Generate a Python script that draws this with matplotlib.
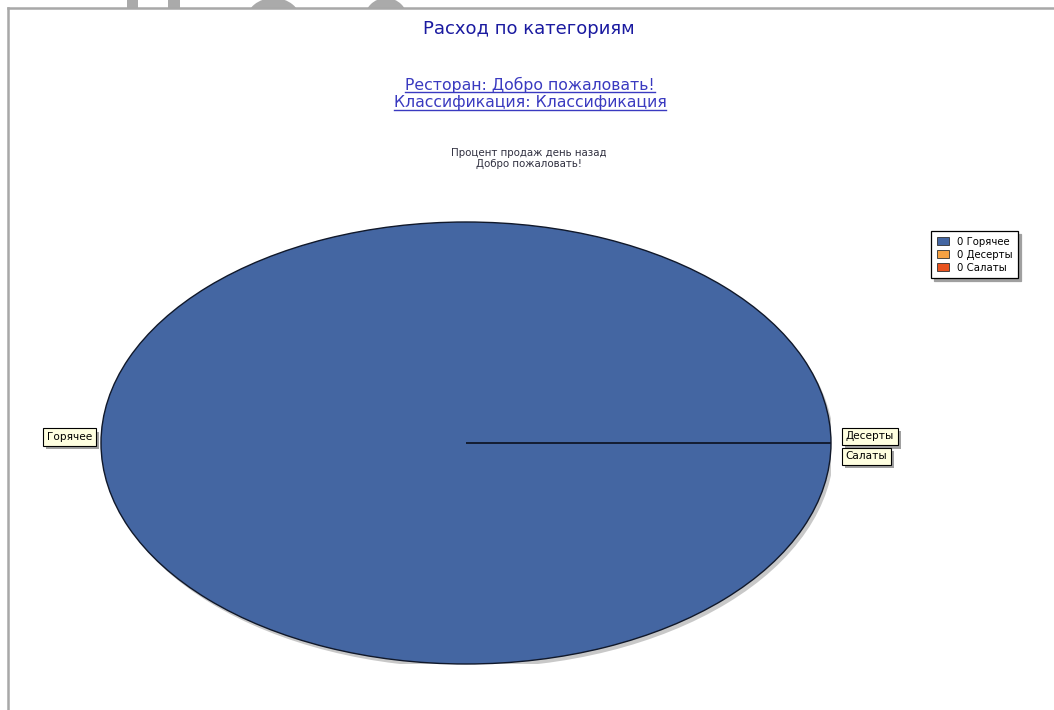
import matplotlib
matplotlib.use("Agg")
import matplotlib.pyplot as plt
from matplotlib import patches, transforms
import matplotlib.patheffects as pe
import numpy as np

categories = ["Горячее", "Десерты", "Салаты"]
shares = [100, 0, 0]
legend_values = [0, 0, 0]
colors = ["#4466A2", "#F5A142", "#E8521E"]

title = "Расход по категориям"
subtitle_lines = ["Ресторан: Добро пожаловать!", "Классификация: Классификация"]
small_lines = ["Процент продаж день назад", "Добро пожаловать!"]

W, H = 1054, 710
fig = plt.figure(figsize=(W / 100, H / 100), dpi=100)
fig.patch.set_facecolor("white")

def fx(px):
    return px / W

def fy(py):
    return 1 - py / H

# watermark fragments above the frame
grey = "#AAAAAA"
for x0, x1 in [(127, 138), (168, 180)]:
    fig.patches.append(patches.Rectangle((fx(x0), fy(8)), fx(x1 - x0), 8 / H,
                                         transform=fig.transFigure, color=grey, lw=0, zorder=0))
for x0, x1 in [(250, 297), (367, 405)]:
    fig.patches.append(patches.Ellipse((fx((x0 + x1) / 2), fy(20)), fx(x1 - x0) * 1.15, 44 / H,
                                       transform=fig.transFigure, color=grey, lw=0, zorder=0))
fig.patches.append(patches.Rectangle((0, 0), 1, fy(8), transform=fig.transFigure,
                                     color="white", lw=0, zorder=1))
# frame
fig.lines.append(plt.Line2D([fx(8), 1], [fy(8), fy(8)], transform=fig.transFigure,
                            color="#A8A8A8", lw=1.8, zorder=2))
fig.lines.append(plt.Line2D([fx(8), fx(8)], [0, fy(8)], transform=fig.transFigure,
                            color="#A8A8A8", lw=1.8, zorder=2))

# titles
fig.text(fx(529), fy(29), title, ha="center", va="center", fontsize=13,
         color="#1A1AA0", family="DejaVu Sans", zorder=3)
sub_texts = []
for i, line in enumerate(subtitle_lines):
    t = fig.text(fx(530), fy(85 + 18 * i), line, ha="center", va="center", fontsize=11.3,
                 color="#3A3AC0", family="DejaVu Sans", zorder=3)
    sub_texts.append(t)
for i, line in enumerate(small_lines):
    fig.text(fx(529), fy(153 + 11 * i), line, ha="center", va="center", fontsize=7.4,
             color="#303040", family="DejaVu Sans", zorder=3)

# pie
cx, cy, rx, ry = 466, 443, 365, 221
ax = fig.add_axes([fx(cx - rx), fy(cy + ry), fx(2 * rx), 2 * ry / H])
ax.axis("off")
ax.set_zorder(4)

shadow_tr = transforms.offset_copy(ax.transData, fig=fig, x=3, y=-4, units="dots")
ax.add_patch(patches.Ellipse((0, 0), 2, 2, transform=shadow_tr, color="#C8C8C8", lw=0, zorder=1))

wedges, _ = ax.pie(shares, colors=colors, startangle=0, counterclock=True, radius=1,
                   wedgeprops=dict(edgecolor="#10182A", linewidth=1.0), normalize=True)
for w in wedges:
    w.set_zorder(2)
ax.set_aspect("auto")
ax.set_xlim(-1, 1)
ax.set_ylim(-1, 1)

# labels
box = dict(boxstyle="square,pad=0.35", fc="#FFFFE0", ec="black", lw=0.8)
right_count = 0
for w, name in zip(wedges, categories):
    mid = np.deg2rad((w.theta1 + w.theta2) / 2)
    x, y = np.cos(mid), np.sin(mid)
    if x < 0:
        t = ax.text(-1.025, 0.027, name, ha="right", va="center", fontsize=7.6, bbox=box,
                    family="DejaVu Sans", zorder=5)
    else:
        t = ax.text(1.04, 0.03 - 0.09 * right_count, name, ha="left", va="center", fontsize=7.6,
                    bbox=box, family="DejaVu Sans", zorder=5)
        right_count += 1
    t.get_bbox_patch().set_path_effects([pe.SimplePatchShadow(offset=(2.5, -2.5),
                                                               shadow_rgbFace="#A0A0A0", alpha=1),
                                         pe.Normal()])

# legend
handles = [patches.Patch(facecolor=c, edgecolor="#303030", lw=0.6) for c in colors]
labels = [f"{v} {n}" for v, n in zip(legend_values, categories)]
leg = fig.legend(handles, labels, loc="upper right", bbox_to_anchor=(fx(1018), fy(231)),
                 fontsize=7.3, frameon=True, fancybox=False, shadow={"color": "#A0A0A0", "alpha": 1},
                 edgecolor="black", handlelength=1.2, handleheight=0.8, handletextpad=0.8,
                 borderpad=0.55, labelspacing=0.3, borderaxespad=0)
leg.get_frame().set_linewidth(0.9)
leg.set_zorder(6)

# underline subtitle lines
fig.canvas.draw()
r = fig.canvas.get_renderer()
for t in sub_texts:
    bb = t.get_window_extent(r)
    y = bb.y0 + 1
    fig.lines.append(plt.Line2D([bb.x0 / W, bb.x1 / W], [y / H, y / H], transform=fig.transFigure,
                                color="#3A3AC0", lw=1.0, zorder=3))

fig.savefig("out.png", dpi=100)
